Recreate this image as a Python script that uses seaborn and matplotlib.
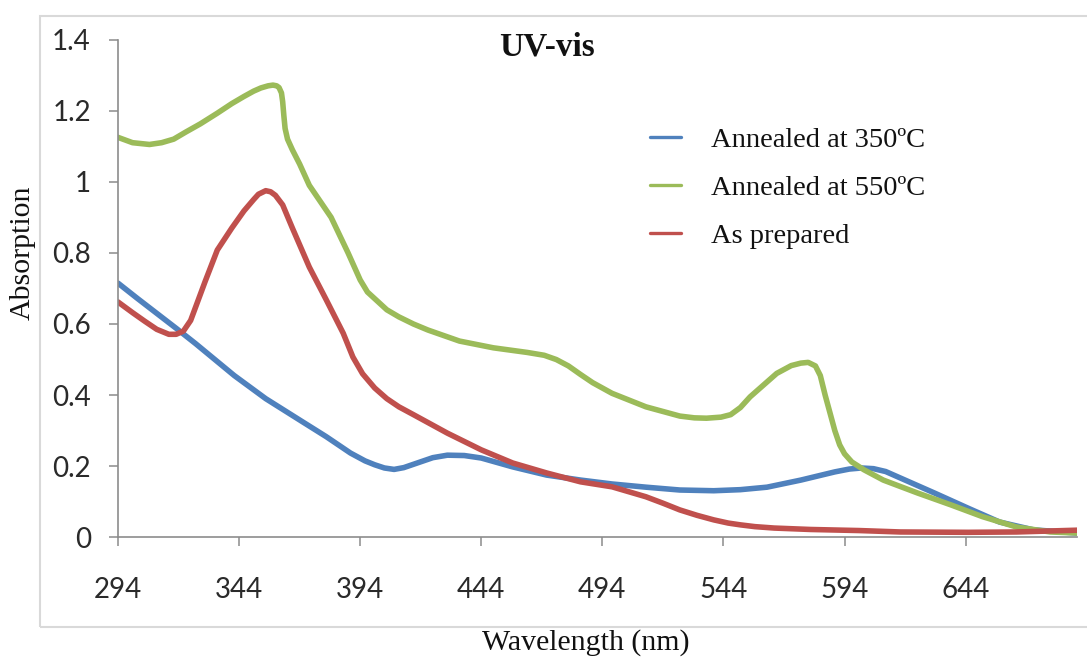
import numpy as np
import pandas as pd
import matplotlib
matplotlib.use("Agg")
import matplotlib.pyplot as plt
import matplotlib.patches as mpatches
import seaborn as sns

# ---------------- data ----------------
series_names = ["Annealed at 350ºC", "Annealed at 550ºC", "As prepared"]

wl_350 = [294, 302, 310, 318, 326, 334, 342, 355, 369, 380, 390, 396, 400, 404,
          408, 412, 418, 424, 430, 437, 444, 457, 471, 485, 498, 512, 526, 540,
          551, 562, 576, 590, 596, 601, 606, 611, 617, 631, 645, 658, 672, 690]
abs_350 = [0.715, 0.672, 0.630, 0.588, 0.545, 0.500, 0.455, 0.390, 0.330, 0.283,
           0.237, 0.215, 0.204, 0.195, 0.191, 0.196, 0.210, 0.224, 0.231, 0.230,
           0.223, 0.198, 0.175, 0.161, 0.150, 0.141, 0.133, 0.131, 0.134, 0.141,
           0.161, 0.184, 0.192, 0.195, 0.193, 0.185, 0.167, 0.125, 0.082, 0.043,
           0.021, 0.012]

wl_550 = [294, 300, 307, 312, 317, 322, 328, 335, 341, 346, 350, 353, 356, 358,
          359.5, 360.5, 361.5, 362, 362.5, 363, 364, 366, 369, 373, 382, 389,
          394, 397, 401, 405, 410, 416, 422, 435, 449, 463, 470, 475, 480, 485,
          490, 498, 512, 526, 532, 537, 543, 547, 551, 555, 566, 572, 576, 579,
          582, 584, 586, 588, 590, 592, 594, 597, 602, 610, 624, 638, 651, 665,
          679, 690]
abs_550 = [1.125, 1.110, 1.105, 1.110, 1.120, 1.140, 1.163, 1.193, 1.220, 1.240,
           1.255, 1.264, 1.270, 1.272, 1.270, 1.265, 1.250, 1.225, 1.185, 1.150,
           1.120, 1.090, 1.050, 0.990, 0.900, 0.800, 0.724, 0.690, 0.665, 0.640,
           0.620, 0.600, 0.583, 0.552, 0.533, 0.520, 0.512, 0.500, 0.482, 0.458,
           0.435, 0.405, 0.367, 0.341, 0.336, 0.335, 0.338, 0.345, 0.365, 0.395,
           0.461, 0.483, 0.490, 0.492, 0.482, 0.455, 0.400, 0.350, 0.300, 0.260,
           0.235, 0.212, 0.190, 0.161, 0.125, 0.091, 0.058, 0.029, 0.015, 0.012]

wl_ap = [294, 300, 305, 310, 315, 318, 321, 324, 327, 330, 335, 341, 346, 350,
         352, 355, 357, 359, 362, 366, 373, 380, 387, 391, 395, 400, 405, 410,
         416, 430, 444, 457, 471, 485, 498, 512, 519, 526, 533, 540, 546, 551,
         557, 565, 580, 600, 617, 645, 665, 690]
abs_ap = [0.662, 0.632, 0.608, 0.585, 0.571, 0.571, 0.580, 0.610, 0.665, 0.720,
          0.808, 0.870, 0.918, 0.950, 0.965, 0.975, 0.972, 0.962, 0.935, 0.870,
          0.760, 0.668, 0.574, 0.507, 0.460, 0.420, 0.390, 0.367, 0.345, 0.293,
          0.246, 0.209, 0.181, 0.156, 0.142, 0.114, 0.096, 0.077, 0.062, 0.049,
          0.040, 0.035, 0.030, 0.026, 0.022, 0.019, 0.015, 0.014, 0.015, 0.020]

x_ticks = [294, 344, 394, 444, 494, 544, 594, 644]
y_ticks = [0, 0.2, 0.4, 0.6, 0.8, 1.0, 1.2, 1.4]
y_tick_labels = ["0", "0.2", "0.4", "0.6", "0.8", "1", "1.2", "1.4"]

colors = ["#4F81BD", "#9BBB59", "#C0504D"]

# ---------------- build frame ----------------
frames = []
for name, wl, ab in zip(series_names, [wl_350, wl_550, wl_ap],
                        [abs_350, abs_550, abs_ap]):
    frames.append(pd.DataFrame({"Wavelength": wl, "Absorption": ab, "Series": name}))
df = pd.concat(frames, ignore_index=True)

# ---------------- figure ----------------
sns.set_theme(style="white")
plt.rcParams["font.family"] = ["Lato", "DejaVu Sans"]

W, H = 1087, 658
fig = plt.figure(figsize=(W / 100, H / 100), dpi=100)
ax = fig.add_axes([118 / W, 1 - 537.3 / H, (1077 - 118) / W, (537.3 - 39.6) / H])

sns.lineplot(data=df, x="Wavelength", y="Absorption", hue="Series",
             hue_order=series_names, palette=colors, estimator=None,
             sort=True, linewidth=4.0, ax=ax, legend=True)
for ln in ax.get_lines():
    ln.set_solid_joinstyle("round")
    ln.set_solid_capstyle("round")

ax.set_xlim(294, 690)
ax.set_ylim(0, 1.4)
ax.set_xticks(x_ticks)
ax.set_xticklabels([str(t) for t in x_ticks])
ax.set_yticks(y_ticks)
ax.set_yticklabels(y_tick_labels)
ax.set_xlabel("")
ax.set_ylabel("")

for s in ["top", "right"]:
    ax.spines[s].set_visible(False)
for s in ["left", "bottom"]:
    ax.spines[s].set_color("#8C8C8C")
    ax.spines[s].set_linewidth(1.2)

ax.tick_params(axis="both", direction="out", length=6.5, width=1.1,
               color="#8C8C8C", labelsize=20, labelcolor="#2a2a2a")
ax.tick_params(axis="y", pad=13, left=True)
ax.tick_params(axis="x", pad=22, bottom=True)
ax.grid(False)

# legend
leg = ax.legend(loc="upper left", bbox_to_anchor=(650 / W, 1 - 127 / H),
                bbox_transform=fig.transFigure, frameon=False,
                prop={"family": "Liberation Serif", "size": 20.5},
                handlelength=1.1, handletextpad=1.05, labelspacing=0.78,
                borderpad=0, borderaxespad=0)
for h in leg.get_lines():
    h.set_linewidth(2.4)
for t in leg.get_texts():
    t.set_color("#111111")

# texts
fig.text(547 / W, 1 - 47 / H, "UV-vis", ha="center", va="center",
         fontsize=24, fontweight="bold", family="Liberation Serif", color="#111111")
fig.text(23 / W, 1 - 253 / H, "Absorption", ha="center", va="center",
         rotation=90, fontsize=21.5, family="Liberation Serif", color="#111111")
fig.text(586 / W, 1 - 629 / H, "Wavelength (nm)", ha="center", va="top",
         fontsize=21.5, family="Liberation Serif", color="#111111")

# outer chart border
rect = mpatches.Rectangle((40 / W, 1 - 627 / H), (1100 - 40) / W, (627 - 16) / H,
                          transform=fig.transFigure, fill=False,
                          edgecolor="#D9D9D9", linewidth=1.5)
fig.patches.append(rect)

fig.savefig("out.png", dpi=100, facecolor="white")
